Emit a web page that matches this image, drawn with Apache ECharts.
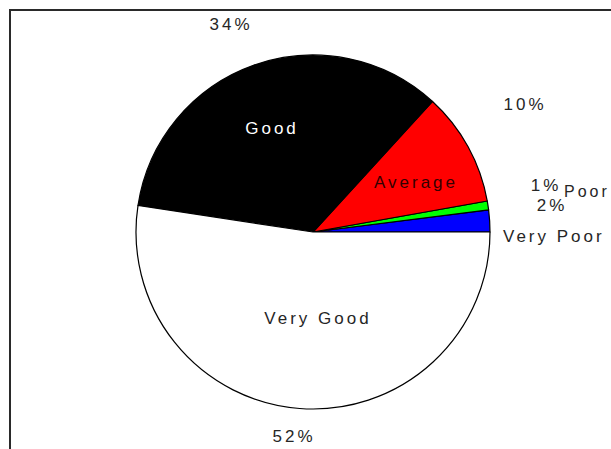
<!DOCTYPE html>
<html>
<head>
<meta charset="utf-8">
<script src="https://cdn.jsdelivr.net/npm/echarts@6/dist/echarts.min.js"></script>
<style>
  html, body { margin: 0; padding: 0; background: #ffffff; }
  #chart { width: 611px; height: 449px; }
  #chart text { letter-spacing: 3px; }
</style>
</head>
<body>
<div id="chart"></div>
<script>
// ---- data ----
const categories = ['Very Poor', 'Poor', 'Average', 'Good', 'Very Good'];
const values = [2.0, 0.8, 10.4, 34.4, 52.4];
const sliceColors = ['#0000ff', '#00ff00', '#ff0000', '#000000', '#ffffff'];

// ---- layout (not data) ----
const CENTER = [313, 232];
const RADIUS = 177;
const FONT = '"Liberation Sans", Arial, sans-serif';
const FONT_SIZE = 17;
// label anchor positions: [x, y, align]
const pctLabelPos = [
  [552, 205, 'center'],
  [546, 185, 'center'],
  [525, 104, 'center'],
  [231, 24, 'center'],
  [294, 436, 'center']
];
const nameLabelPos = [
  [503, 236, 'left'],
  [564, 191, 'left'],
  [416, 182, 'center'],
  [272, 128, 'center'],
  [318, 318, 'center']
];
const nameColors = ['#262626', '#262626', '#330000', '#ffffff', '#262626'];
const nameSizes = [17, 16, 17, 17, 17];

const chart = echarts.init(document.getElementById('chart'), null, { renderer: 'svg' });

const baseData = categories.map((c, i) => ({
  name: c,
  value: values[i],
  itemStyle: { color: sliceColors[i], borderColor: '#000000', borderWidth: 1.2 }
}));

const ghostData = categories.map((c, i) => ({
  name: c,
  value: values[i],
  itemStyle: { color: 'rgba(0,0,0,0)', borderWidth: 0 }
}));

function common() {
  return {
    type: 'pie',
    center: CENTER,
    radius: RADIUS,
    startAngle: 0,
    clockwise: false,
    silent: true,
    animation: false,
    labelLine: { show: false },
    emphasis: { disabled: true }
  };
}

chart.setOption({
  backgroundColor: '#ffffff',
  animation: false,
  graphic: [{
    type: 'rect',
    shape: { x: 10, y: 10, width: 700, height: 600 },
    style: { fill: 'none', stroke: '#2a2a2a', lineWidth: 2 },
    silent: true,
    z: 100
  }],
  series: [
    Object.assign(common(), {
      data: baseData,
      label: { show: false }
    }),
    Object.assign(common(), {
      data: ghostData,
      label: {
        show: true,
        position: 'inside',
        overflow: 'none',
        fontFamily: FONT,
        fontSize: FONT_SIZE,
        color: '#262626',
        formatter: p => Math.round(p.percent) + '%'
      },
      labelLayout: p => {
        const q = pctLabelPos[p.dataIndex];
        return { x: q[0], y: q[1], align: q[2], verticalAlign: 'middle' };
      }
    }),
    Object.assign(common(), {
      data: ghostData.map((d, i) => Object.assign({}, d, {
        label: { color: nameColors[i], fontSize: nameSizes[i] }
      })),
      label: {
        show: true,
        position: 'inside',
        overflow: 'none',
        fontFamily: FONT,
        fontSize: FONT_SIZE,
        formatter: '{b}'
      },
      labelLayout: p => {
        const q = nameLabelPos[p.dataIndex];
        return { x: q[0], y: q[1], align: q[2], verticalAlign: 'middle' };
      }
    })
  ]
});
</script>
</body>
</html>
